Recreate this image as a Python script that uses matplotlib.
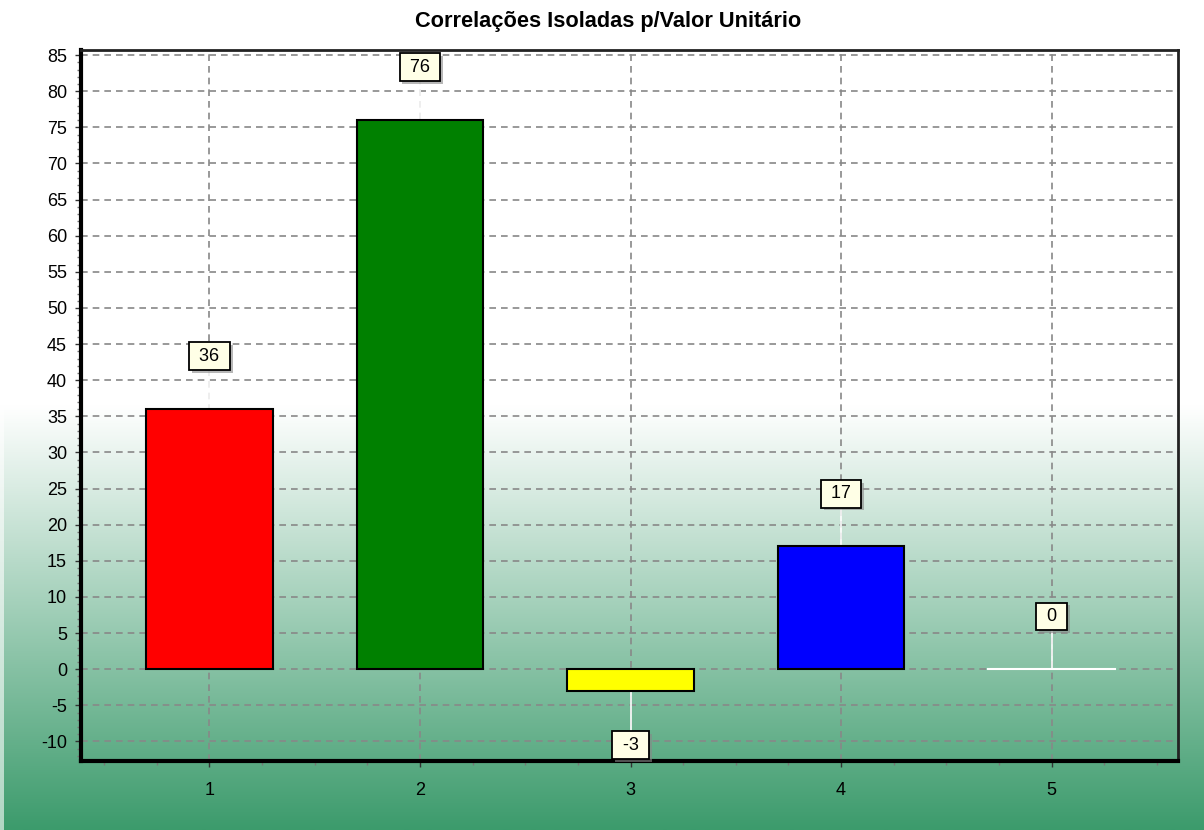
import numpy as np
import matplotlib.pyplot as plt
from matplotlib.ticker import MultipleLocator
from matplotlib import patheffects

# data
cats = [1, 2, 3, 4, 5]
vals = [36, 76, -3, 17, 0]
cores = ['#FF0000', '#008000', '#FFFF00', '#0000FF', '#FFFFFF']
titulo = 'Correlações Isoladas p/Valor Unitário'

plt.rcParams['font.family'] = ['Liberation Sans', 'DejaVu Sans']
plt.rcParams['axes.unicode_minus'] = False

fig = plt.figure(figsize=(12.04, 8.30), dpi=100)

# gradient background (white top -> green bottom)
bg = fig.add_axes([0, 0, 1, 1], zorder=-1)
h = 400
t = np.linspace(0, 1, h)
start = 0.49
f = np.clip((t - start) / (1 - start), 0, 1)
top = np.array([1.0, 1.0, 1.0])
bot = np.array([60, 155, 108]) / 255
grad = top[None, :] * (1 - f[:, None]) + bot[None, :] * f[:, None]
bg.imshow(grad[:, None, :], aspect='auto', extent=[0, 1, 1, 0])
bg.axvspan(0, 4/1204, color='white', alpha=0.6, lw=0)
bg.set_xlim(0, 1)
bg.set_ylim(1, 0)
bg.axis('off')

ax = fig.add_axes([81/1204, 1 - 761/830, (1178-81)/1204, (761-50)/830])
ax.patch.set_visible(False)

bars = ax.bar(cats, vals, width=0.6, color=cores, edgecolor='black', linewidth=1.5, zorder=3)
# zero-valued bar drawn as a white line
bars[4].set_edgecolor('none')
ax.plot([cats[4] - 0.3, cats[4] + 0.3], [0, 0], color='white', lw=1.5, zorder=3)

# marks
for x, v in zip(cats, vals):
    off = 7.3 if v >= 0 else -7.5
    ax.plot([x, x], [v, v + off], color='white', lw=1.2, zorder=2.5)
    txt = ax.text(x, v + off, ' %d ' % v, ha='center', va='center', fontsize=13, zorder=5,
                  bbox=dict(boxstyle='square,pad=0.3', fc='#FFFFE6', ec='black', lw=1.3))
    txt.get_bbox_patch().set_path_effects([
        patheffects.SimplePatchShadow(offset=(2, -2), shadow_rgbFace='#888888', alpha=0.6),
        patheffects.Normal()])

ax.set_xlim(0.39, 5.6)
ax.set_ylim(-12.7, 85.7)
ax.set_xticks(cats)
ax.yaxis.set_major_locator(MultipleLocator(5))
ax.yaxis.set_minor_locator(MultipleLocator(1))
ax.xaxis.set_minor_locator(MultipleLocator(0.25))
ax.grid(True, which='major', color='#888888', linestyle=(0, (4, 3)), lw=1.2, zorder=1)
ax.tick_params(axis='both', which='major', labelsize=13, length=4, width=1, color='#333333')
ax.tick_params(axis='both', which='minor', length=3, width=1, color='#777777')
ax.tick_params(axis='y', pad=6)
ax.tick_params(axis='x', pad=11)

for s in ['left', 'bottom']:
    ax.spines[s].set_linewidth(3)
    ax.spines[s].set_color('black')
for s in ['top', 'right']:
    ax.spines[s].set_linewidth(2)
    ax.spines[s].set_color('#222222')

fig.text(608/1204, 1 - 21/830, titulo, ha='center', va='center', fontsize=15.7, fontweight='bold')

fig.savefig('out.png', dpi=100)
